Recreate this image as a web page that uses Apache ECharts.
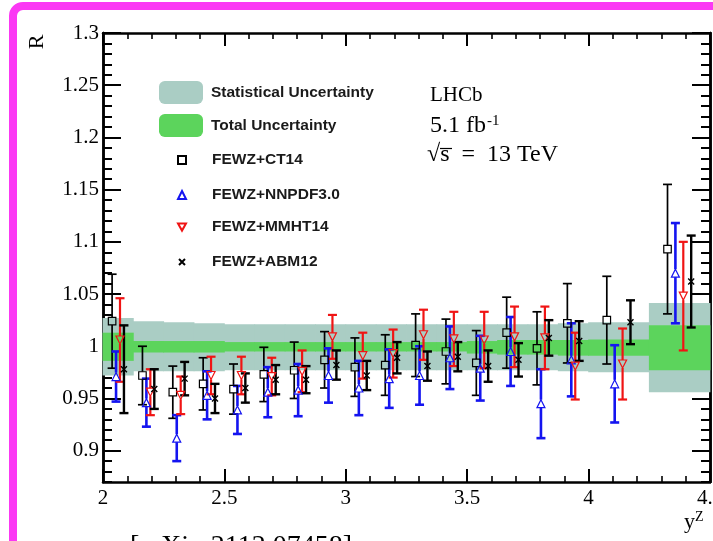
<!DOCTYPE html>
<html>
<head>
<meta charset="utf-8">
<script src="https://cdn.jsdelivr.net/npm/echarts@6/dist/echarts.min.js"></script>
<style>
html,body{margin:0;padding:0;background:#fff;}
#c{width:713px;height:541px;}
</style>
</head>
<body>
<div id="c"></div>
<script>
// ---- data ----
const binEdges = [2.0, 2.125, 2.25, 2.375, 2.5, 2.625, 2.75, 2.875, 3.0, 3.125, 3.25, 3.375, 3.5, 3.625, 3.75, 3.875, 4.0, 4.25, 4.5];

// Statistical uncertainty band (outer, grey)
const statHi = [1.027, 1.024, 1.023, 1.022, 1.021, 1.021, 1.021, 1.021, 1.021, 1.021, 1.021, 1.021, 1.021, 1.021, 1.021, 1.022, 1.023, 1.0415];
const statLo = [0.972, 0.976, 0.976, 0.976, 0.977, 0.977, 0.977, 0.977, 0.977, 0.977, 0.977, 0.977, 0.977, 0.977, 0.977, 0.976, 0.975, 0.956];
// Total uncertainty band (inner, green)
const totHi = [1.013, 1.005, 1.005, 1.005, 1.004, 1.004, 1.004, 1.004, 1.004, 1.004, 1.004, 1.004, 1.005, 1.006, 1.006, 1.006, 1.0065, 1.020];
const totLo = [0.986, 0.994, 0.994, 0.994, 0.995, 0.995, 0.995, 0.995, 0.995, 0.995, 0.995, 0.995, 0.993, 0.992, 0.992, 0.991, 0.991, 0.977];

const ct14Val = [1.024, 0.972, 0.956, 0.964, 0.959, 0.973, 0.977, 0.987, 0.980, 0.982, 1.001, 0.995, 0.984, 1.013, 0.998, 1.022, 1.025, 1.093];
const ct14Err = [0.045, 0.028, 0.025, 0.025, 0.024, 0.026, 0.027, 0.027, 0.028, 0.029, 0.030, 0.031, 0.031, 0.034, 0.035, 0.038, 0.042, 0.062];

const nnpdfVal = [0.971, 0.946, 0.912, 0.953, 0.939, 0.956, 0.958, 0.972, 0.960, 0.969, 0.972, 0.989, 0.979, 0.995, 0.945, 0.987, 0.964, 1.070];
const nnpdfErr = [0.024, 0.023, 0.022, 0.023, 0.023, 0.024, 0.025, 0.026, 0.026, 0.028, 0.028, 0.030, 0.031, 0.033, 0.033, 0.035, 0.037, 0.048];

const mmhtVal = [1.006, 0.956, 0.953, 0.972, 0.972, 0.971, 0.976, 1.009, 0.991, 0.993, 1.011, 1.007, 1.006, 1.009, 1.008, 0.981, 0.983, 1.048];
const mmhtErr = [0.040, 0.022, 0.018, 0.018, 0.018, 0.018, 0.020, 0.021, 0.022, 0.023, 0.024, 0.026, 0.027, 0.029, 0.030, 0.032, 0.034, 0.052];

const abmVal = [0.978, 0.959, 0.969, 0.950, 0.960, 0.968, 0.968, 0.982, 0.972, 0.989, 0.981, 0.990, 0.981, 0.987, 1.008, 1.005, 1.023, 1.062];
const abmErr = [0.042, 0.019, 0.016, 0.014, 0.014, 0.014, 0.013, 0.014, 0.014, 0.015, 0.014, 0.014, 0.015, 0.016, 0.017, 0.019, 0.021, 0.044];

// position of each prediction inside its bin (fraction of bin width from centre)
const pdfOffset = { ct14: -0.2, nnpdf: -0.07, mmht: 0.06, abm: 0.19 };

const yTickValues = [0.9, 0.95, 1.0, 1.05, 1.1, 1.15, 1.2, 1.25, 1.3];
const yTickLabels = ['0.9', '0.95', '1', '1.05', '1.1', '1.15', '1.2', '1.25', '1.3'];
const xTickValues = [2, 2.5, 3, 3.5, 4, 4.5];
const xTickLabels = ['2', '2.5', '3', '3.5', '4', '4.5'];

// ---- helpers ----
const Y_MIN = 0.87, Y_MAX = 1.3;
const yMinor = [];
for (let k = 87; k <= 130; k++) {
  const v = k / 100;
  if (!yTickValues.some(t => Math.abs(t - v) < 1e-9)) yMinor.push(v);
}
function labelFor(vals, labels, v) {
  const i = vals.findIndex(t => Math.abs(t - v) < 1e-9);
  return i >= 0 ? labels[i] : '';
}
function bandData(lo, hi) {
  return lo.map((l, i) => [binEdges[i], binEdges[i + 1], l, hi[i]]);
}
function pointData(vals, errs, frac) {
  return vals.map((v, i) => {
    const a = binEdges[i], b = binEdges[i + 1];
    return [(a + b) / 2 + frac * (b - a), v, errs[i]];
  });
}
function bandSeries(name, lo, hi, color) {
  return {
    name, type: 'custom', xAxisIndex: 0, yAxisIndex: 0,
    itemStyle: { color },
    encode: { x: [0, 1], y: [2, 3] },
    data: bandData(lo, hi),
    renderItem: (params, api) => {
      const p1 = api.coord([api.value(0), api.value(3)]);
      const p2 = api.coord([api.value(1), api.value(2)]);
      return { type: 'rect', shape: { x: p1[0] - 0.4, y: p1[1], width: p2[0] - p1[0] + 0.8, height: p2[1] - p1[1] },
               style: { fill: color } };
    },
    z: 1
  };
}
function errorSeries(vals, errs, frac, color, lw, gap) {
  return {
    type: 'custom', xAxisIndex: 0, yAxisIndex: 0, silent: true,
    encode: { x: 0, y: 1 },
    data: pointData(vals, errs, frac),
    renderItem: (params, api) => {
      const x = api.value(0), v = api.value(1), e = api.value(2);
      const c = api.coord([x, v]), t = api.coord([x, v + e]), b = api.coord([x, v - e]);
      const cw = 4.5;
      const st = { stroke: color, lineWidth: lw };
      const ch = [
        { type: 'line', shape: { x1: c[0], y1: t[1], x2: c[0], y2: c[1] - gap }, style: st },
        { type: 'line', shape: { x1: c[0], y1: c[1] + gap, x2: c[0], y2: b[1] }, style: st },
        { type: 'line', shape: { x1: c[0] - cw, y1: t[1], x2: c[0] + cw, y2: t[1] }, style: st },
        { type: 'line', shape: { x1: c[0] - cw, y1: b[1], x2: c[0] + cw, y2: b[1] }, style: st }
      ];
      return { type: 'group', children: ch };
    },
    z: 3
  };
}
function markerSeries(name, vals, errs, frac, symbol, size, rotate, color, bw) {
  return {
    name, type: 'scatter', xAxisIndex: 0, yAxisIndex: 0,
    symbol, symbolSize: size, symbolRotate: rotate,
    itemStyle: { color: 'rgba(255,255,255,0)', borderColor: color, borderWidth: bw, opacity: 1 },
    data: pointData(vals, errs, frac).map(d => [d[0], d[1]]),
    z: 5
  };
}

const serif = 'Liberation Serif, Times New Roman, serif';
const sans = 'Liberation Sans, Arial, Helvetica, sans-serif';

function mkY(pos, major) {
  return {
    type: 'value', min: Y_MIN, max: Y_MAX, position: pos, offset: 0,
    axisLine: { show: true, onZero: false, lineStyle: { color: '#000', width: 2.5 } },
    axisTick: { show: true, inside: true, length: major ? 18 : 9, customValues: major ? yTickValues : yMinor,
                lineStyle: { color: '#000', width: 2 } },
    axisLabel: { show: major && pos === 'left', customValues: yTickValues,
                 formatter: v => labelFor(yTickValues, yTickLabels, v),
                 fontFamily: serif, fontSize: 21, color: '#000', margin: 4 },
    splitLine: { show: false }, minorTick: { show: false }
  };
}
function mkX(pos) {
  return {
    type: 'value', min: 2, max: 4.5, interval: 0.5, position: pos, offset: 0,
    axisLine: { show: true, onZero: false, lineStyle: { color: '#000', width: 2.5 } },
    axisTick: { show: true, inside: true, length: 13, lineStyle: { color: '#000', width: 2 } },
    minorTick: { show: true, splitNumber: 5, length: 6, lineStyle: { color: '#000', width: 1.6 } },
    axisLabel: { show: pos === 'bottom', showMinLabel: true, showMaxLabel: true, hideOverlap: false,
                 formatter: v => labelFor(xTickValues, xTickLabels, v),
                 fontFamily: serif, fontSize: 21, color: '#000', margin: 6 },
    splitLine: { show: false }
  };
}

function legendItem(name, left, top, w, h, padLeft, extra) {
  return Object.assign({
    show: true, orient: 'vertical', left, top, padding: 0, itemGap: 0,
    itemWidth: w, itemHeight: h, selectedMode: false,
    data: [name],
    textStyle: { fontFamily: sans, fontWeight: 'bold', fontSize: 15.5, color: '#1a1a1a', lineHeight: 18, padding: [0, 0, 0, padLeft] }
  }, extra || {});
}

const option = {
  animation: false,
  backgroundColor: '#fff',
  grid: { left: 103, right: 3, top: 33, bottom: 59, containLabel: false, outerBoundsMode: 'none' },
  xAxis: [mkX('bottom'), mkX('top')],
  yAxis: [mkY('left', true), mkY('left', false), mkY('right', true), mkY('right', false)],
  legend: [
    legendItem('Statistical Uncertainty', 159, 81, 44, 23, 3, { icon: 'roundRect' }),
    legendItem('Total Uncertainty', 159, 114, 44, 23, 3, { icon: 'roundRect' }),
    legendItem('FEWZ+CT14', 177, 151, 8, 8, 21),
    legendItem('FEWZ+NNPDF3.0', 177, 186, 8, 8, 21),
    legendItem('FEWZ+MMHT14', 177, 218, 8, 8, 21, { icon: 'path://M0,0L10,0L5,9Z' }),
    legendItem('FEWZ+ABM12', 178, 253, 6, 6, 22)
  ],
  series: [
    bandSeries('Statistical Uncertainty', statLo, statHi, '#aacdc4'),
    bandSeries('Total Uncertainty', totLo, totHi, '#5cd45c'),
    errorSeries(ct14Val, ct14Err, pdfOffset.ct14, '#000', 1.7, 3.8),
    errorSeries(nnpdfVal, nnpdfErr, pdfOffset.nnpdf, '#1414f0', 2.6, 4),
    errorSeries(mmhtVal, mmhtErr, pdfOffset.mmht, '#f01414', 2.2, 4),
    errorSeries(abmVal, abmErr, pdfOffset.abm, '#000', 2.4, 0),
    markerSeries('FEWZ+CT14', ct14Val, ct14Err, pdfOffset.ct14, 'rect', 7.5, 0, '#000', 1.2),
    markerSeries('FEWZ+NNPDF3.0', nnpdfVal, nnpdfErr, pdfOffset.nnpdf, 'triangle', 8, 0, '#1414f0', 1.2),
    markerSeries('FEWZ+MMHT14', mmhtVal, mmhtErr, pdfOffset.mmht, 'triangle', 8, 180, '#f01414', 1.2),
    markerSeries('FEWZ+ABM12', abmVal, abmErr, pdfOffset.abm, 'path://M0,0L10,10M10,0L0,10', 6, 0, '#000', 1.4)
  ],
  graphic: [
    { type: 'rect', z: 100, silent: true, shape: { x: 13, y: 6, width: 760, height: 620, r: 10 },
      style: { fill: 'none', stroke: '#fb38f4', lineWidth: 8 } },
    { type: 'text', left: 430, top: 85, style: { text: 'LHCb', font: '21px ' + serif, fill: '#000' } },
    { type: 'text', left: 430, top: 114, style: { text: '5.1 fb{s|-1}', font: '24px ' + serif, fill: '#000',
        rich: { s: { fontSize: 15, fontFamily: serif, verticalAlign: 'top', padding: [0, 0, 9, 1] } } } },
    { type: 'text', left: 427, top: 143, style: { text: '\u221As\u2002=\u200213 TeV', font: '24px ' + serif, fill: '#000' } },
    { type: 'line', shape: { x1: 440, y1: 148.5, x2: 452, y2: 148.5 }, style: { stroke: '#000', lineWidth: 1.2 } },
    { type: 'text', x: 37, y: 42, rotation: Math.PI / 2, style: { text: 'R', font: '22px ' + serif, fill: '#000', align: 'center', verticalAlign: 'middle' } },
    { type: 'text', left: 684, top: 510, style: { text: 'y{s|Z}', font: '22px ' + serif, fill: '#000',
        rich: { s: { fontSize: 14, fontFamily: serif, padding: [0, 0, 10, 0] } } } },
    { type: 'text', left: 130, top: 533, style: { text: '[arXiv:2112.07458]', font: '28px ' + serif, fill: '#000' } }
  ]
};
const chart = echarts.init(document.getElementById('c'));
chart.setOption(option);
</script>
</body>
</html>
